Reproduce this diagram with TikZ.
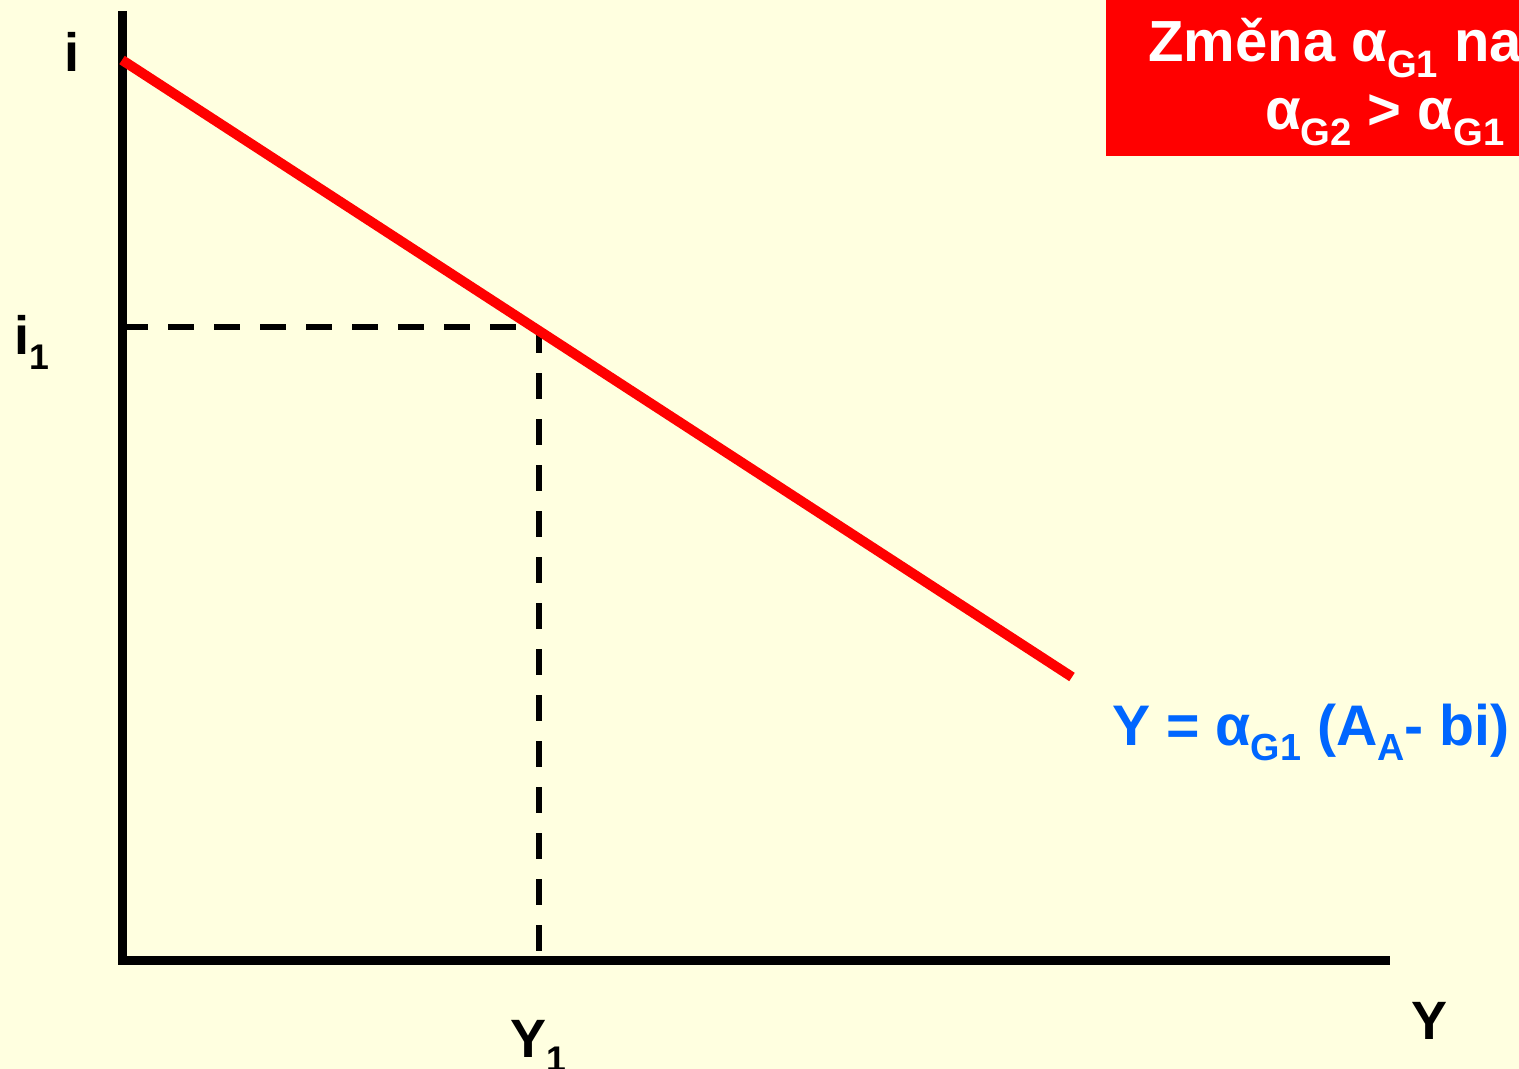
\documentclass[tikz,border=0pt]{standalone}
\usepackage{fontspec}
\setmainfont{Liberation Sans}
\usepackage{xcolor}
\usetikzlibrary{positioning}

\definecolor{paper}{RGB}{255,255,224}
\definecolor{eqblue}{RGB}{0,102,255}
\definecolor{boxred}{RGB}{255,0,0}
\newcommand{\sub}[1]{\raisebox{-0.27em}{\fontsize{0.66em}{0.66em}\selectfont #1}}

\begin{document}
\begin{tikzpicture}[x=0.5pt, y=-0.5pt]
\tikzstyle{axis} = [draw, black, line width=4.5pt]
\tikzstyle{curve} = [draw, boxred, line width=5pt]
\tikzstyle{guide} = [draw, black, line width=3.3pt, dash pattern=on 13pt off 10pt]
\tikzstyle{lab} = [inner sep=0pt, anchor=base west, font=\fontsize{27pt}{30pt}\selectfont\bfseries]
\tikzstyle{eq} = [inner sep=0pt, anchor=base west, text=eqblue, font=\fontsize{28.6pt}{32pt}\selectfont\bfseries]
\tikzstyle{note} = [inner sep=0pt, text=white, font=\fontsize{29pt}{32pt}\selectfont\bfseries]

\fill [paper] (0,0) rectangle (1519,1069);
\useasboundingbox (0,0) rectangle (1519,1069);
\clip (0,0) rectangle (1519,1069);

% dashed guides
\coordinate (eqpt) at (539,327);
\coordinate (ileft) at (122,327);
\coordinate (ybot) at (539,960);
\path [guide] (ileft) -- (520,327);
\path [guide] (eqpt) -- (ybot);

% axes
\coordinate (top) at (122.5,11);
\coordinate (origin) at (122.5,960);
\coordinate (right) at (1390,960);
\path [axis] (top) -- (origin |- 0,964);
\path [axis] (118,960) -- (right);

% curve
\coordinate (start) at (122,60);
\coordinate (stop) at (1072,677);
\path [curve] (start) -- (stop);

% axis labels
\node [lab] (ilab) at (64,72) {i};
\node [lab] (i1lab) at (14,355) {i\sub{1}};
\node [lab] (y1lab) at (510,1057) {Y\sub{1}};
\node [lab] (ylab) at (1411,1039) {Y};

% curve label
\node [eq] (eqlab) at (1112,745) {Y = α\sub{G1} (A\sub{A}- bi)};

% note box
\fill [boxred] (1106,0) rectangle (1519,156);
\node [note, anchor=base west] (note1) at (1148,62) {Změna α\sub{G1} na};
\node [note, anchor=base east] (note2) at (1505,130) {α\sub{G2} > α\sub{G1}};

\end{tikzpicture}
\end{document}
